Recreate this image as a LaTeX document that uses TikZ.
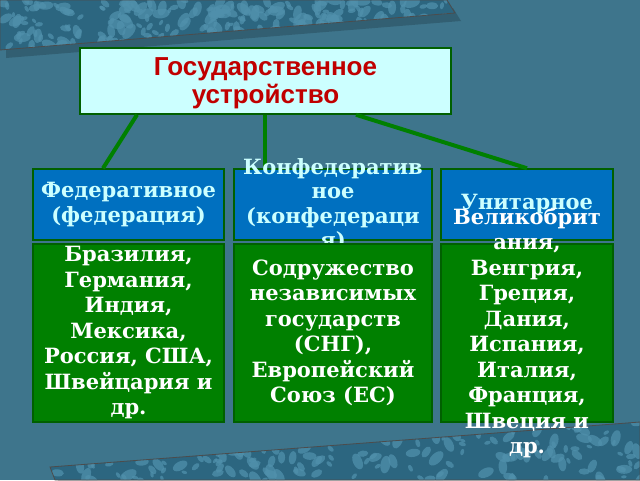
\documentclass[tikz,border=0pt]{standalone}
\usepackage{fontspec}
\setmainfont{DejaVu Serif}
\newfontfamily\headfont{Liberation Sans}
\usetikzlibrary{positioning}

\definecolor{bgsea}{RGB}{62,117,140}
\definecolor{bandbase}{RGB}{44,102,128}
\definecolor{bandspot}{RGB}{80,144,172}
\definecolor{boxline}{RGB}{0,96,0}
\definecolor{topfill}{RGB}{204,255,255}
\definecolor{headred}{RGB}{192,0,0}
\definecolor{kindblue}{RGB}{0,112,192}
\definecolor{palecyan}{RGB}{204,255,255}
\definecolor{listgreen}{RGB}{0,128,0}

\tikzset{
  framed/.style={draw=boxline, line width=1.5pt, inner sep=0pt},
  topbox/.style={framed, fill=topfill, minimum width=371pt, minimum height=66pt},
  kindbox/.style={framed, fill=kindblue, minimum height=71pt},
  listbox/.style={framed, fill=listgreen, minimum height=178pt},
  headlabel/.style={text=headred, align=center, inner sep=0pt,
    font=\headfont\bfseries\fontsize{26}{28}\selectfont},
  kindlabel/.style={text=palecyan, align=center, inner sep=0pt,
    font=\bfseries\fontsize{21}{24.5}\selectfont},
  listlabel/.style={text=white, align=center, inner sep=0pt,
    font=\bfseries\fontsize{21}{25.5}\selectfont},
  link/.style={draw=listgreen, line width=4pt}
}

\begin{document}
\begin{tikzpicture}[x=1pt,y=-1pt]
		\useasboundingbox (0,0) rectangle (640,480);
		% 背景
		\fill[bgsea] (0,0) rectangle (640,480);
		
		% 上下两条花纹带
		\pgfmathsetseed{11}
		\foreach \band in {{(0,0) -- (447,0) -- (455,13) -- (0,50) -- cycle},
		                   {(50,467) -- (640,422) -- (640,480) -- (55,480) -- cycle}}{
			\fill[black, opacity=0.18] [shift={(6,8)}] \band;
			\begin{scope}
				\clip \band;
				\fill[bandbase] (0,0) rectangle (640,480);
				\foreach \i in {1,...,700}{
					\pgfmathsetmacro\sx{rnd*640}
					\pgfmathsetmacro\sy{rnd<0.6 ? rnd*52 : 418+rnd*62}
					\pgfmathsetmacro\sr{1.5+rnd*3.5}
					\pgfmathsetmacro\sa{rnd*180}
					\fill[bandspot, opacity=0.75, rotate around={\sa:(\sx,\sy)}]
						(\sx,\sy) ellipse ({\sr*1.8pt} and {\sr pt});
				}
			\end{scope}
			\draw[black!70, line width=0.8pt] \band;
		}
		
		% 标题
		\node[topbox] (top) at (265.5,81) {};
		\node[headlabel] at ([yshift=-2pt]top.center) {Государственное\\устройство};
		
		% 三种形式
		\foreach \name/\cx/\w in {fed/128.5/191, conf/333/198, unit/527/172}{
			\node[kindbox, minimum width=\w pt] (\name) at (\cx,204.5) {};
		}
		\draw[link] (top.south -| 137,0) -- (fed.north -| 103,0);
		\draw[link] (top.south -| 265,0) -- (conf.north -| 265,0);
		\draw[link] (top.south -| 356,0) -- (unit.north -| 527,0);
		\node[kindlabel] at (fed) {Федеративное\\(федерация)};
		\node[kindlabel] at (conf) {Конфедератив\\ное\\(конфедераци\\я)};
		\node[kindlabel] at (unit) {Унитарное};
		
		% 例子
		\foreach \name/\cx/\w in {fedlist/128.5/191, conflist/333/198, unitlist/527/172}{
			\node[listbox, minimum width=\w pt] (\name) at (\cx,333) {};
		}
		\node[listlabel] at (fedlist) {Бразилия,\\Германия,\\Индия,\\Мексика,\\Россия, США,\\Швейцария и\\др.};
		\node[listlabel] at (conflist) {Содружество\\независимых\\государств\\(СНГ),\\Европейский\\Союз (ЕС)};
		\node[listlabel] at (unitlist) {Великобрит\\ания,\\Венгрия,\\Греция,\\Дания,\\Испания,\\Италия,\\Франция,\\Швеция и\\др.};
	\end{tikzpicture}
\end{document}
